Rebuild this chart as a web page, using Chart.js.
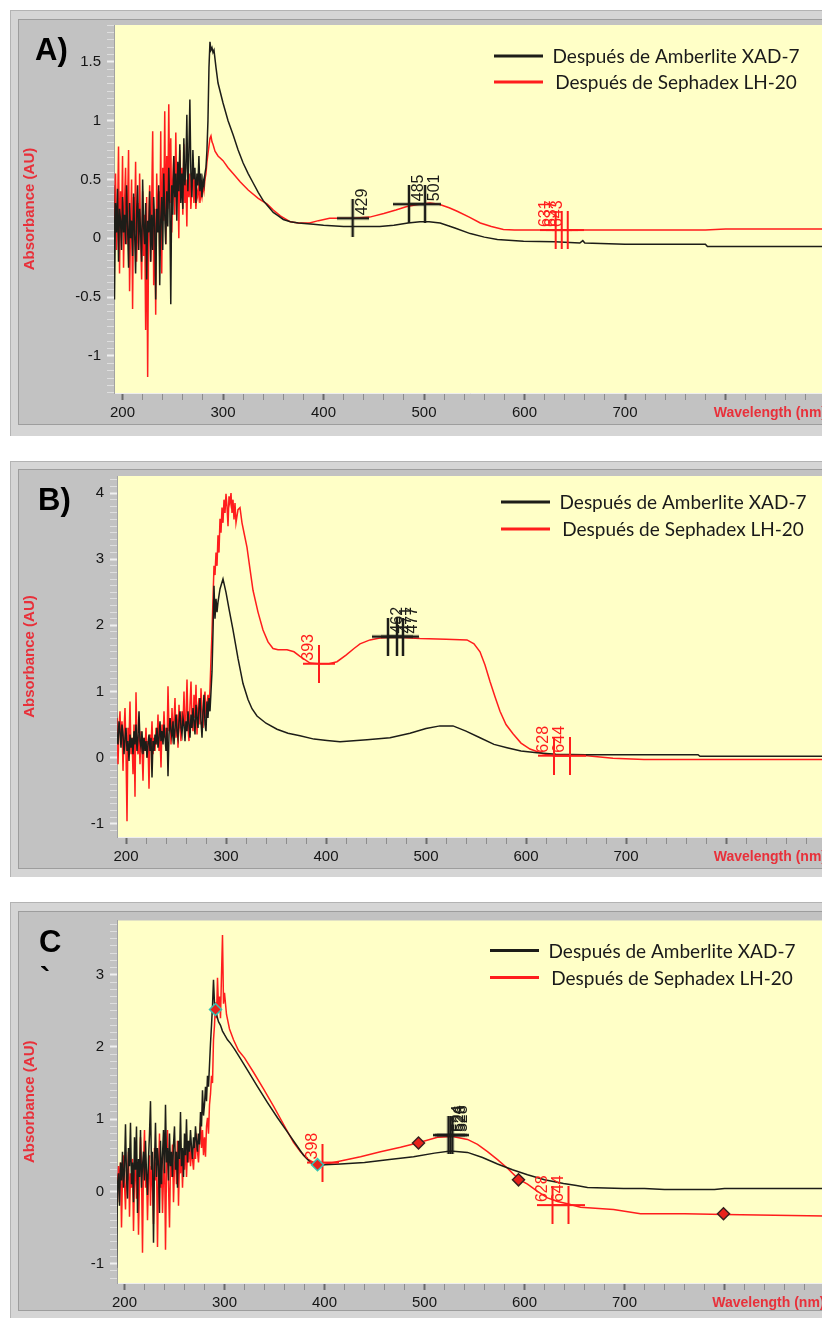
<!DOCTYPE html>
<html>
<head>
<meta charset="utf-8">
<script src="https://cdn.jsdelivr.net/npm/chart.js@4.4.1/dist/chart.umd.min.js"></script>
<style>
  html, body { margin: 0; padding: 0; background: #fff; }
  body { width: 822px; height: 1318px; overflow: hidden; position: relative; }
  .frame { position: absolute; left: 10px; width: 840px; background: #d5d5d5; border-top: 1px solid #b3b3b3; border-left: 1px solid #b3b3b3; box-sizing: border-box; }
  .inner { position: absolute; left: 18px; width: 830px; background: #c2c2c2; border: 1px solid #9d9d9d; box-sizing: border-box; }
  canvas { position: absolute; left: 19px; }
</style>
</head>
<body>
<div class="frame" style="top:10px;height:426px"></div>
<div class="inner" style="top:19px;height:406px"></div>
<div class="frame" style="top:461px;height:416px"></div>
<div class="inner" style="top:469px;height:400px"></div>
<div class="frame" style="top:902px;height:430px"></div>
<div class="inner" style="top:911px;height:400px"></div>

<script>
// ---- shared labels ----
const seriesLabels = ['Después de Amberlite XAD-7', 'Después de Sephadex LH-20'];
const xTickLabels = [200, 300, 400, 500, 600, 700];
const wavelengthStart = 190; // noisy UV segment is sampled every 1 nm from here

// ---- A) ----
const aBlackNoise = [0.10,0.45,-0.52,0.30,0.05,0.42,-0.20,0.25,0.15,-0.10,
  0.35,0.05,0.20,-0.05,0.45,0.10,-0.25,0.30,0.00,0.15,
  -0.15,0.38,0.05,-0.30,0.20,0.45,-0.10,0.25,0.05,-0.20,
  0.50,0.10,-0.05,0.30,-0.35,0.15,0.05,0.40,-0.20,0.20,
  -0.10,0.35,0.10,-0.52,0.25,0.05,0.45,-0.40,0.15,0.35,
  -0.10,0.55,0.20,-0.05,0.40,0.10,0.60,0.30,-0.56,0.45,
  0.20,0.70,0.35,0.55,0.15,0.65,0.40,0.80,0.30,0.55,
  0.25,0.85,0.45,0.60,1.05,0.40,0.70,1.18,0.55,0.35,
  0.75,0.50,0.60,0.30,0.55,0.45,0.70,0.40,0.55,0.35,
  0.50,0.45,0.55,0.60,0.75];
const aBlackNm = [285,286,287,288,289,290,291,293,295,300,305,310,315,320,325,330,335,340,345,350,355,360,367,375,390,400,420,456,470,484,496,505,516,530,546,560,573,599,630,655,658,660,700,780,782,900];
const aBlackAbs = [1.00,1.45,1.67,1.60,1.62,1.58,1.60,1.45,1.32,1.15,1.00,0.88,0.75,0.64,0.55,0.47,0.39,0.32,0.27,0.22,0.19,0.16,0.14,0.13,0.12,0.11,0.10,0.10,0.11,0.13,0.14,0.14,0.13,0.09,0.04,0.01,-0.01,-0.025,-0.03,-0.04,-0.02,-0.04,-0.05,-0.05,-0.07,-0.07];
const aRedNoise = [0.50,-0.40,0.20,0.55,-0.10,0.15,0.78,-0.30,0.40,0.05,
  0.70,-0.25,0.30,0.60,-0.05,0.25,0.75,-0.45,0.10,0.50,
  -0.60,0.35,0.05,0.65,-0.20,0.30,-0.10,0.55,0.00,-0.35,
  0.40,-0.15,0.20,-0.78,0.35,-1.18,0.10,0.45,-0.20,0.30,
  0.91,-0.40,0.25,-0.65,0.55,0.10,0.40,-0.15,0.91,-0.30,
  0.60,0.15,1.08,-0.05,0.70,0.25,1.14,0.30,0.85,0.05,
  0.50,0.70,0.20,0.90,0.35,0.55,0.00,0.75,0.40,0.60,
  0.20,0.80,0.30,0.50,0.10,0.65,0.35,0.55,0.25,0.45,
  0.60,0.30,0.50,0.25,0.40,0.35,0.50,0.30,0.40,0.35,
  0.45,0.40,0.50,0.55,0.65];
const aRedNm = [285,287,288,289,290,292,295,300,305,310,317,325,335,344,350,357,367,375,386,395,406,429,446,460,472,483,495,506,515,525,533,545,556,567,579,590,650,700,780,800,900];
const aRedAbs = [0.72,0.85,0.87,0.82,0.80,0.74,0.70,0.66,0.60,0.55,0.48,0.41,0.34,0.29,0.24,0.19,0.14,0.13,0.13,0.15,0.17,0.17,0.18,0.21,0.24,0.27,0.29,0.30,0.29,0.26,0.23,0.18,0.13,0.10,0.075,0.07,0.07,0.07,0.07,0.08,0.08];
const aBlackPeakNm = [429, 485, 501];
const aBlackPeakAbs = [0.17, 0.29, 0.29];
const aRedPeakNm = [631, 637, 643];
const aRedPeakAbs = [0.07, 0.07, 0.07];

// ---- B) ----
const bBlackNoise = [0.85,0.30,0.20,0.55,0.40,0.15,0.50,0.35,0.05,0.30,
  0.45,0.10,0.25,-0.05,0.35,0.15,0.30,0.05,0.40,0.20,
  0.50,0.10,0.30,0.70,0.25,0.15,0.40,0.05,0.30,0.10,
  0.25,0.00,0.20,0.35,0.10,0.30,-0.30,0.25,0.10,0.35,
  0.20,0.45,0.15,0.30,0.55,0.25,0.40,0.20,0.50,0.30,
  0.10,0.45,-0.28,0.35,0.60,0.40,0.30,0.55,0.20,0.45,
  0.65,0.40,0.30,0.55,0.70,0.45,0.35,0.60,0.50,0.25,
  0.55,0.40,0.70,0.50,0.30,0.65,0.45,0.75,0.55,0.35,
  0.80,0.60,0.45,0.75,0.90,0.55,0.30,0.70,0.95,0.50,
  0.40,0.85,0.60,0.90,0.70];
const bBlackNm = [285,286,287,288,289,290,291,292,294,297,300,303,307,312,317,322,326,331,340,351,362,374,388,401,414,441,464,484,500,514,527,540,554,568,581,595,611,630,660,772,774,900];
const bBlackAbs = [1.00,1.30,1.90,2.60,2.10,2.40,2.20,2.35,2.55,2.70,2.50,2.25,1.93,1.50,1.12,0.88,0.74,0.63,0.52,0.43,0.37,0.33,0.28,0.26,0.24,0.27,0.30,0.37,0.44,0.48,0.48,0.40,0.30,0.20,0.15,0.10,0.075,0.05,0.045,0.045,0.02,0.02];
const bRedNoise = [0.40,0.60,-0.10,0.45,0.70,0.20,0.55,-0.20,0.40,0.75,
  0.10,-0.96,0.45,0.25,0.85,0.05,0.30,-0.25,0.50,-0.59,
  0.99,0.20,0.05,0.35,-0.10,0.40,0.15,-0.35,0.30,0.10,
  0.45,0.00,0.25,-0.47,0.35,0.15,0.55,0.05,0.30,0.10,
  0.45,0.20,0.65,0.10,0.35,-0.15,0.50,0.25,0.70,0.30,
  0.45,0.15,1.08,0.40,0.60,0.20,0.75,0.35,0.55,0.90,
  0.30,0.65,0.15,0.80,0.45,0.25,0.70,0.50,1.00,0.35,
  0.60,1.18,0.45,0.25,0.80,1.15,0.55,0.40,0.95,0.60,
  1.10,0.35,0.75,0.90,0.50,1.05,0.70,0.45,0.85,1.00,
  0.60,0.80,0.95,0.75,1.05];
const bRedNm = [285,286,287,288,289,290,291,292,293,294,295,296,297,298,299,300,301,302,303,304,305,306,307,308,309,310,312,314,316,318,321,324,327,332,337,342,347,352,361,368,374,380,384,393,403,411,420,428,434,444,454,470,494,520,541,548,554,559,564,569,574,580,587,595,604,617,628,645,661,687,718,900];
const bRedAbs = [1.50,1.90,2.40,2.90,2.76,3.10,2.90,3.36,3.10,3.61,3.40,3.78,3.55,3.90,3.70,3.99,3.80,3.50,3.95,3.85,4.00,3.70,3.90,3.60,3.85,3.55,3.75,3.78,3.55,3.40,3.18,2.85,2.53,2.20,1.93,1.75,1.65,1.63,1.63,1.60,1.53,1.47,1.43,1.42,1.42,1.45,1.55,1.65,1.72,1.78,1.81,1.82,1.80,1.79,1.78,1.72,1.60,1.40,1.15,0.92,0.70,0.50,0.36,0.22,0.13,0.06,0.03,0.03,0.03,-0.01,-0.03,-0.03];
const bBlackPeakNm = [462, 471, 477];
const bBlackPeakAbs = [1.83, 1.83, 1.83];
const bRedPeakNm = [393, 628, 644];
const bRedPeakAbs = [1.42, 0.03, 0.03];

// ---- C ----
const cBlackNoise = [0.50,-0.30,-1.06,0.10,0.25,-0.20,0.40,0.15,0.55,0.05,
  0.30,0.93,0.20,-0.10,0.60,0.35,0.95,0.10,0.40,-0.15,
  0.75,0.30,0.90,-0.30,0.45,0.20,0.85,0.05,0.35,0.55,
  0.15,0.70,0.25,-0.05,0.45,0.80,1.25,0.30,0.55,-0.71,
  0.40,0.95,0.20,0.60,0.35,-0.30,0.70,0.10,0.50,0.85,
  0.25,1.20,0.40,0.60,0.15,0.80,0.35,0.55,0.20,0.65,
  0.90,0.30,0.55,0.05,0.70,0.45,1.10,0.35,0.60,0.20,
  0.80,0.50,1.00,0.40,0.70,0.55,0.85,0.60,0.45,0.75,
  0.60,0.90,0.70,0.55,0.80,0.65,1.10,0.90,1.40,1.05,
  1.20,1.45,1.25,1.60,1.45];
const cBlackNm = [285,286,287,288,289,290,291,292,294,296,298,300,303,306,310,315,323,333,343,353,363,371,379,386,393,400,416,440,465,489,510,526,543,558,573,588,603,620,639,652,663,699,720,740,790,800,900];
const cBlackAbs = [1.75,2.05,2.30,2.57,2.93,2.60,2.55,2.45,2.35,2.30,2.22,2.17,2.10,2.05,1.97,1.86,1.68,1.45,1.23,1.02,0.82,0.66,0.50,0.40,0.34,0.37,0.38,0.40,0.44,0.48,0.53,0.56,0.54,0.47,0.38,0.30,0.23,0.16,0.11,0.08,0.055,0.04,0.04,0.025,0.025,0.04,0.04];
const cRedNoise = [-0.30,0.10,0.25,-0.15,0.35,0.05,0.40,-0.50,0.20,0.50,
  0.10,-0.25,0.30,0.15,0.55,-0.35,0.25,0.05,0.45,-0.55,
  0.20,0.35,-0.10,0.30,-0.60,0.15,0.75,0.25,-0.85,0.40,
  0.85,0.05,0.30,-0.40,0.20,0.50,-0.20,0.35,0.10,-0.45,
  0.60,0.15,0.40,-0.77,0.25,0.80,0.05,0.35,-0.30,0.20,
  0.55,-0.81,0.30,0.85,0.10,-0.50,0.40,0.20,0.65,-0.15,
  0.35,0.55,0.10,0.70,-0.20,0.45,0.25,0.60,0.05,0.50,
  0.30,0.75,0.20,0.55,0.40,0.70,0.35,0.55,0.45,0.30,
  0.60,0.45,0.80,0.55,0.40,0.70,0.95,0.60,0.85,0.50,
  0.75,0.48,0.90,1.02,0.80];
const cRedNm = [285,286,287,288,289,290,291,292,293,294,295,296,297,298,299,300,302,305,309,314,320,329,339,349,359,369,376,383,390,398,416,436,456,476,493,513,528,543,553,563,573,583,594,603,613,623,633,643,656,689,716,760,800,900];
const cRedAbs = [1.20,1.35,1.60,1.50,2.10,2.30,2.62,2.40,2.96,2.55,2.70,2.40,3.00,3.55,2.60,2.75,2.45,2.25,2.10,1.95,1.85,1.65,1.42,1.18,0.93,0.68,0.55,0.45,0.39,0.37,0.42,0.48,0.55,0.61,0.67,0.75,0.76,0.72,0.65,0.55,0.44,0.32,0.17,0.10,0.00,-0.09,-0.14,-0.17,-0.22,-0.25,-0.31,-0.31,-0.32,-0.34];
const cBlackPeakNm = [524, 526, 528];
const cBlackPeakAbs = [0.78, 0.78, 0.78];
const cRedPeakNm = [398, 628, 644];
const cRedPeakAbs = [0.40, -0.19, -0.19];
const cMarkNm = [291, 393, 494, 594, 799];
const cMarkAbs = [2.52, 0.37, 0.67, 0.16, -0.31];

// ---- drawing ----
const BLACK = '#1d1d18';
const RED = '#ff1d1d';
const FONT = '"Liberation Sans", Arial, sans-serif';
const CANVAS_LEFT = 19;
const CANVAS_W = 821;

function crossStamp(color, thick) {
  const c = document.createElement('canvas');
  c.width = 32; c.height = 38;
  const g = c.getContext('2d');
  g.fillStyle = color;
  g.fillRect(16 - thick / 2, 0, thick, 38);
  g.fillRect(0, 19 - thick / 2, 32, thick);
  return c;
}

function spectrum(label, color, noise, nm, abs, order) {
  const pts = noise.map((v, i) => ({ x: wavelengthStart + i, y: v }));
  nm.forEach((w, i) => pts.push({ x: w, y: abs[i] }));
  return { label, data: pts, borderColor: color, backgroundColor: color, borderWidth: 1.5,
           pointRadius: 0, pointHoverRadius: 0, tension: 0, fill: false, order, inLegend: true };
}

function peaks(color, nm, abs, side, thick) {
  return { label: '', showLine: false, data: nm.map((w, i) => ({ x: w, y: abs[i] })),
           pointStyle: crossStamp(color, thick), pointRadius: 4, borderColor: color, backgroundColor: color,
           peakLabels: nm.map(String), labelSide: side, order: 0 };
}

function isMajor(v, step) {
  const r = v / step;
  return Math.abs(r - Math.round(r)) < 1e-6;
}
function fmt(v) {
  const n = Math.round(v * 100) / 100;
  return (n === 0 ? 0 : n).toString();
}

const overlay = {
  id: 'overlay',
  beforeDraw(chart, args, o) {
    const { ctx, chartArea: a } = chart;
    ctx.save();
    ctx.fillStyle = '#ffffc7';
    ctx.fillRect(a.left, a.top, a.right - a.left, a.bottom - a.top);
    ctx.restore();
  },
  afterDraw(chart, args, o) {
    const { ctx, chartArea: a } = chart;
    // peak-pick labels, rotated
    chart.data.datasets.forEach((ds, i) => {
      if (!ds.peakLabels) return;
      const meta = chart.getDatasetMeta(i);
      ctx.save();
      ctx.font = '16px ' + FONT;
      ctx.fillStyle = ds.borderColor;
      ctx.textAlign = 'left';
      ctx.textBaseline = 'middle';
      meta.data.forEach((pt, j) => {
        const dx = ds.labelSide === 'left' ? -10 : 10;
        ctx.save();
        ctx.translate(pt.x + dx, pt.y - 3);
        ctx.rotate(-Math.PI / 2);
        ctx.fillText(ds.peakLabels[j], 0, 0);
        ctx.restore();
      });
      ctx.restore();
    });
    // legend inside plot
    const lg = o.legend;
    const rows = chart.data.datasets.filter(d => d.inLegend);
    ctx.save();
    ctx.font = '19px Lato, "Noto Sans", sans-serif';
    ctx.textAlign = 'center';
    ctx.textBaseline = 'middle';
    rows.forEach((d, r) => {
      const y = a.top + lg.y + r * lg.gap;
      ctx.strokeStyle = d.borderColor;
      ctx.lineWidth = 3;
      ctx.beginPath();
      ctx.moveTo(a.right + lg.lineX, y);
      ctx.lineTo(a.right + lg.lineX + 49, y);
      ctx.stroke();
      ctx.fillStyle = '#1a1a1a';
      ctx.fillText(d.label, a.right + lg.textX, y + 1);
    });
    ctx.restore();
    // panel tag
    ctx.save();
    ctx.font = 'bold 31px ' + FONT;
    ctx.fillStyle = '#000';
    ctx.textAlign = 'left';
    ctx.textBaseline = 'alphabetic';
    o.tag.forEach(t => ctx.fillText(t.text, t.x - CANVAS_LEFT, t.y - o.canvasTop));
    ctx.restore();
  }
};

function buildPanel(p) {
  const canvasTop = p.top - 2;
  const canvasH = p.bottom + 30 - canvasTop;
  const cv = document.createElement('canvas');
  cv.width = CANVAS_W; cv.height = canvasH;
  cv.style.top = canvasTop + 'px';
  document.body.appendChild(cv);

  new Chart(cv, {
    type: 'line',
    data: { datasets: p.datasets },
    options: {
      responsive: false,
      animation: false,
      events: [],
      layout: { padding: { left: 0, top: 2, bottom: 0, right: CANVAS_W - (p.right - CANVAS_LEFT) } },
      plugins: {
        legend: { display: false },
        tooltip: { enabled: false },
        overlay: { legend: p.legend, tag: p.tag, canvasTop }
      },
      scales: {
        x: {
          type: 'linear', min: p.xMin, max: 900,
          border: { display: true, color: '#eeeeee', width: 1 },
          grid: { display: true, drawOnChartArea: false, drawTicks: true, tickLength: 7,
                  tickColor: c => isMajor(c.tick.value, 100) ? '#6a6a6a' : '#8c8c8c',
                  tickWidth: c => isMajor(c.tick.value, 100) ? 2 : 1 },
          ticks: { stepSize: 20, includeBounds: false, autoSkip: false, maxRotation: 0, minRotation: 0,
                   padding: 4, color: '#151515', font: { family: FONT, size: 15 },
                   callback: v => xTickLabels.includes(v) ? String(v) : '' },
          title: { display: true, text: 'Wavelength (nm)', align: 'end', color: '#e8303a',
                   font: { family: FONT, size: 14, weight: 'bold' }, padding: { top: 0, bottom: 1.6 } },
          afterFit: s => { s.height = 30; s.paddingLeft = 0; s.paddingRight = 0; }
        },
        y: {
          type: 'linear', min: p.yMin, max: p.yMax,
          border: { display: true, color: '#a2a2a2', width: 1 },
          grid: { display: true, drawOnChartArea: false, drawTicks: true, tickLength: 7,
                  tickColor: c => isMajor(c.tick.value, p.yMajor) ? '#f0f0f0' : '#dedede',
                  tickWidth: c => isMajor(c.tick.value, p.yMajor) ? 2 : 1 },
          ticks: { stepSize: p.yMinor, includeBounds: false, autoSkip: false, padding: 6,
                   color: '#151515', font: { family: FONT, size: 15 },
                   callback: v => isMajor(v, p.yMajor) ? fmt(v) : '' },
          title: { display: true, text: 'Absorbance (AU)', color: '#e8303a',
                   font: { family: FONT, size: 15, weight: 'bold' }, padding: { top: 2, bottom: 0 } },
          afterFit: s => { s.width = p.left - CANVAS_LEFT; s.paddingTop = 0; s.paddingBottom = 0; }
        }
      }
    },
    plugins: [overlay]
  });
}

buildPanel({
  top: 22, bottom: 393, left: 114, right: 826, xMin: 191.5,
  yMin: -1.315, yMax: 1.813, yMajor: 0.5, yMinor: 0.0625,
  legend: { lineX: -332, textX: -150, y: 31, gap: 26 },
  tag: [{ text: 'A)', x: 35, y: 60 }],
  datasets: [
    peaks(BLACK, aBlackPeakNm, aBlackPeakAbs, 'right', 2.5),
    peaks(RED, aRedPeakNm, aRedPeakAbs, 'left', 2),
    spectrum(seriesLabels[0], BLACK, aBlackNoise, aBlackNm, aBlackAbs, 1),
    spectrum(seriesLabels[1], RED, aRedNoise, aRedNm, aRedAbs, 2)
  ]
});

buildPanel({
  top: 473, bottom: 837, left: 117, right: 826, xMin: 191,
  yMin: -1.2, yMax: 4.258, yMajor: 1, yMinor: 0.1,
  legend: { lineX: -325, textX: -143, y: 26, gap: 27 },
  tag: [{ text: 'B)', x: 38, y: 510 }],
  datasets: [
    peaks(BLACK, bBlackPeakNm, bBlackPeakAbs, 'right', 2.5),
    peaks(RED, bRedPeakNm, bRedPeakAbs, 'left', 2),
    spectrum(seriesLabels[0], BLACK, bBlackNoise, bBlackNm, bBlackAbs, 1),
    spectrum(seriesLabels[1], RED, bRedNoise, bRedNm, bRedAbs, 2)
  ]
});

buildPanel({
  top: 915, bottom: 1283, left: 117, right: 824.5, xMin: 192.5,
  yMin: -1.269, yMax: 3.752, yMajor: 1, yMinor: 0.1,
  legend: { lineX: -334.5, textX: -152.5, y: 30, gap: 27 },
  tag: [{ text: 'C', x: 39, y: 952 }, { text: '`', x: 40, y: 989 }],
  datasets: [
    { label: '', showLine: false, data: cMarkNm.map((w, i) => ({ x: w, y: cMarkAbs[i] })),
      pointStyle: 'rectRot', pointRadius: 6, backgroundColor: '#e8221c',
      borderColor: ['#35c4b4', '#35c4b4', '#3a2020', '#3a2020', '#3a2020'], borderWidth: 1.5, order: 0 },
    peaks(BLACK, cBlackPeakNm, cBlackPeakAbs, 'right', 2.5),
    peaks(RED, cRedPeakNm, cRedPeakAbs, 'left', 2),
    spectrum(seriesLabels[0], BLACK, cBlackNoise, cBlackNm, cBlackAbs, 1),
    spectrum(seriesLabels[1], RED, cRedNoise, cRedNm, cRedAbs, 2)
  ]
});
</script>
</body>
</html>
